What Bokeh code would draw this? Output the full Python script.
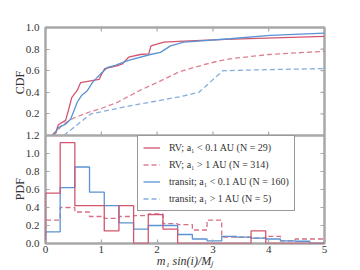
from bokeh.plotting import figure
from bokeh.models import Range1d, FixedTicker, Span, Legend, LegendItem
from bokeh.embed import file_html
from bokeh.resources import INLINE

# ---------------- data ----------------
# CDF (top panel)
cdf_rv_close_x = [0.11, 0.19, 0.23, 0.36, 0.42, 0.47, 0.57, 0.63, 0.96, 1.0, 1.06,
                  1.28, 1.37, 1.49, 1.70, 1.85, 1.89, 2.12, 2.48, 3.22, 5.0]
cdf_rv_close_y = [0.0, 0.04, 0.10, 0.14, 0.25, 0.35, 0.42, 0.49, 0.52, 0.56, 0.62,
                  0.645, 0.66, 0.725, 0.75, 0.756, 0.83, 0.864, 0.873, 0.89, 0.917]

cdf_rv_far_x = [0.15, 0.3, 0.5, 0.8, 1.0, 1.3, 1.7, 2.0, 2.4, 2.8, 3.1, 3.3, 4.0, 5.0]
cdf_rv_far_y = [0.0, 0.1, 0.16, 0.22, 0.25, 0.31, 0.42, 0.49, 0.59, 0.65, 0.69, 0.71, 0.75, 0.78]

cdf_tr_close_x = [0.14, 0.24, 0.36, 0.45, 0.51, 0.57, 0.645, 0.75, 0.84, 0.93, 1.02,
                  1.11, 1.25, 1.40, 1.52, 1.88, 2.06, 2.24, 2.48, 3.31, 4.03, 5.0]
cdf_tr_close_y = [0.0, 0.075, 0.105, 0.15, 0.23, 0.31, 0.37, 0.415, 0.49, 0.54, 0.585,
                  0.63, 0.65, 0.68, 0.70, 0.75, 0.77, 0.83, 0.865, 0.896, 0.927, 0.948]

cdf_tr_far_x = [0.33, 0.81, 1.52, 2.42, 2.75, 3.18, 4.0, 5.0]
cdf_tr_far_y = [0.0, 0.2, 0.275, 0.36, 0.40, 0.60, 0.61, 0.62]

# PDF (bottom panel) histograms, 19 bins between 0 and 5
bin_edges = [0.0, 0.263, 0.526, 0.789, 1.053, 1.316, 1.579, 1.842, 2.105, 2.368,
             2.632, 2.895, 3.158, 3.421, 3.684, 3.947, 4.211, 4.474, 4.737, 5.0]
pdf_rv_close = [0.56, 1.12, 0.42, 0.42, 0.14, 0.42, 0.0, 0.32, 0.16, 0.0,
                0.0, 0.0, 0.0, 0.0, 0.14, 0.0, 0.0, 0.0, 0.0]
pdf_rv_far = [0.26, 0.40, 0.35, 0.30, 0.28, 0.30, 0.31, 0.33, 0.22, 0.21,
              0.15, 0.26, 0.07, 0.07, 0.06, 0.08, 0.03, 0.05, 0.05]
pdf_tr_close = [0.13, 0.62, 0.85, 0.57, 0.42, 0.23, 0.16, 0.20, 0.20, 0.10,
                0.05, 0.03, 0.08, 0.07, 0.06, 0.05, 0.03, 0.025, 0.0]

labels = ["RV; a\u2081 < 0.1 AU (N = 29)",
          "RV; a\u2081 > 1 AU (N = 314)",
          "transit; a\u2081 < 0.1 AU (N = 160)",
          "transit; a\u2081 > 1 AU (N = 5)"]

x_ticks = [0, 1, 2, 3, 4, 5]
pdf_ticks = [0.0, 0.2, 0.4, 0.6, 0.8, 1.0, 1.2]
cdf_ticks = [0.2, 0.4, 0.6, 0.8, 1.0]

X_MAX = 5.0
PDF_MAX = 1.2
CDF_MAX = 1.0

# ---------------- style ----------------
RED = "#d2566e"
BLUE = "#5a93d2"
FRAME = "#a8a8a8"
TXT = "#333333"
FONT = "Liberation Serif"

FRAME_W, FRAME_H = 279, 216
p = figure(width=360, height=270, x_range=Range1d(0, X_MAX),
           y_range=Range1d(0, 2 * PDF_MAX),
           output_backend="svg", toolbar_location=None,
           min_border_left=45, min_border_right=36,
           min_border_top=27, min_border_bottom=27)
p.extra_y_ranges = {"cdf": Range1d(-CDF_MAX, CDF_MAX)}
p.grid.visible = False
p.outline_line_color = FRAME
p.outline_line_width = 2.5
p.background_fill_color = "white"
p.border_fill_color = "white"


def style_axis(ax):
    ax.axis_line_color = None
    ax.major_tick_line_color = FRAME
    ax.major_tick_line_width = 1.2
    ax.major_tick_in = 4
    ax.major_tick_out = 0
    ax.minor_tick_line_color = None
    ax.major_label_text_font = FONT
    ax.major_label_text_color = TXT
    ax.major_label_text_font_size = "11px"
    ax.axis_label_text_font = FONT
    ax.axis_label_text_color = TXT
    ax.axis_label_text_font_size = "12px"
    ax.axis_label_text_font_style = "normal"


# left axis: PDF ticks in bottom half, CDF ticks in top half
scale = PDF_MAX / CDF_MAX
cdf_pos = [PDF_MAX + c * scale for c in cdf_ticks]
left_pos = pdf_ticks + cdf_pos
overrides = {}
for t in pdf_ticks:
    overrides[t] = f"{t:.1f}"
for c, pos in zip(cdf_ticks, cdf_pos):
    overrides[pos] = f"{c:.1f}"

yl = p.yaxis[0]
yl.ticker = FixedTicker(ticks=left_pos, minor_ticks=[])
yl.major_label_overrides = overrides
style_axis(yl)
yl.major_label_standoff = 6
yl.axis_label = "PDF" + "\u00a0" * 28 + "CDF"
yl.axis_label_standoff = -4

xb = p.xaxis[0]
xb.ticker = FixedTicker(ticks=x_ticks, minor_ticks=[])
style_axis(xb)
xb.major_label_standoff = 2
xb.axis_label = "m\u2081 sin(i)/M\u2c7c"
xb.axis_label_standoff = -2
xb.axis_label_text_font_style = "italic"
xb.axis_label_text_font_size = "12px"

# tick marks on the right, top and panel divider (inward, 4 px)
tick_dx = 4 * X_MAX / FRAME_W
tick_dy = 4 * (2 * PDF_MAX) / FRAME_H
p.segment(x0=[X_MAX] * len(left_pos), x1=[X_MAX - tick_dx] * len(left_pos),
          y0=left_pos, y1=left_pos, line_color=FRAME, line_width=1.2)
p.segment(x0=x_ticks, x1=x_ticks, y0=[2 * PDF_MAX] * len(x_ticks),
          y1=[2 * PDF_MAX - tick_dy] * len(x_ticks), line_color=FRAME, line_width=1.2)
p.segment(x0=x_ticks, x1=x_ticks, y0=[PDF_MAX] * len(x_ticks),
          y1=[PDF_MAX + tick_dy] * len(x_ticks), line_color=FRAME, line_width=1.2)
p.add_layout(Span(location=PDF_MAX, dimension="width", line_color=FRAME, line_width=2.5))

# ---------------- CDF lines ----------------
LW = 1.3
r1 = p.line(cdf_rv_close_x, cdf_rv_close_y, y_range_name="cdf", line_color=RED, line_width=LW)
r2 = p.line(cdf_rv_far_x, cdf_rv_far_y, y_range_name="cdf", line_color=RED, line_width=LW,
            line_dash="5 3", line_alpha=0.75)
r3 = p.line(cdf_tr_close_x, cdf_tr_close_y, y_range_name="cdf", line_color=BLUE, line_width=LW)
r4 = p.line(cdf_tr_far_x, cdf_tr_far_y, y_range_name="cdf", line_color=BLUE, line_width=LW,
            line_dash="5 3", line_alpha=0.75)


# ---------------- PDF step histograms ----------------
def step_xy(edges, vals):
    xs = [edges[0]]
    ys = [0.0]
    for i, v in enumerate(vals):
        xs += [edges[i], edges[i + 1]]
        ys += [v, v]
    xs.append(edges[-1])
    ys.append(0.0)
    return xs, ys


hx, hy = step_xy(bin_edges, pdf_rv_far)
p.line(hx, hy, line_color=RED, line_width=LW, line_dash="5 3", line_alpha=0.85)
hx, hy = step_xy(bin_edges, pdf_tr_close)
p.line(hx, hy, line_color=BLUE, line_width=LW)
hx, hy = step_xy(bin_edges, pdf_rv_close)
p.line(hx, hy, line_color=RED, line_width=LW)

# ---------------- legend ----------------
legend = Legend(items=[LegendItem(label=labels[0], renderers=[r1]),
                       LegendItem(label=labels[1], renderers=[r2]),
                       LegendItem(label=labels[2], renderers=[r3]),
                       LegendItem(label=labels[3], renderers=[r4])],
                location=(92, 32))
legend.border_line_color = "#333333"
legend.border_line_width = 1
legend.background_fill_color = "white"
legend.background_fill_alpha = 1.0
legend.label_text_font = FONT
legend.label_text_font_size = "10px"
legend.label_text_color = TXT
legend.glyph_width = 17
legend.glyph_height = 13
legend.label_height = 13
legend.spacing = 4
legend.padding = 5
legend.margin = 0
legend.label_standoff = 9
p.add_layout(legend)

open("out.html", "w").write(file_html(p, INLINE))
